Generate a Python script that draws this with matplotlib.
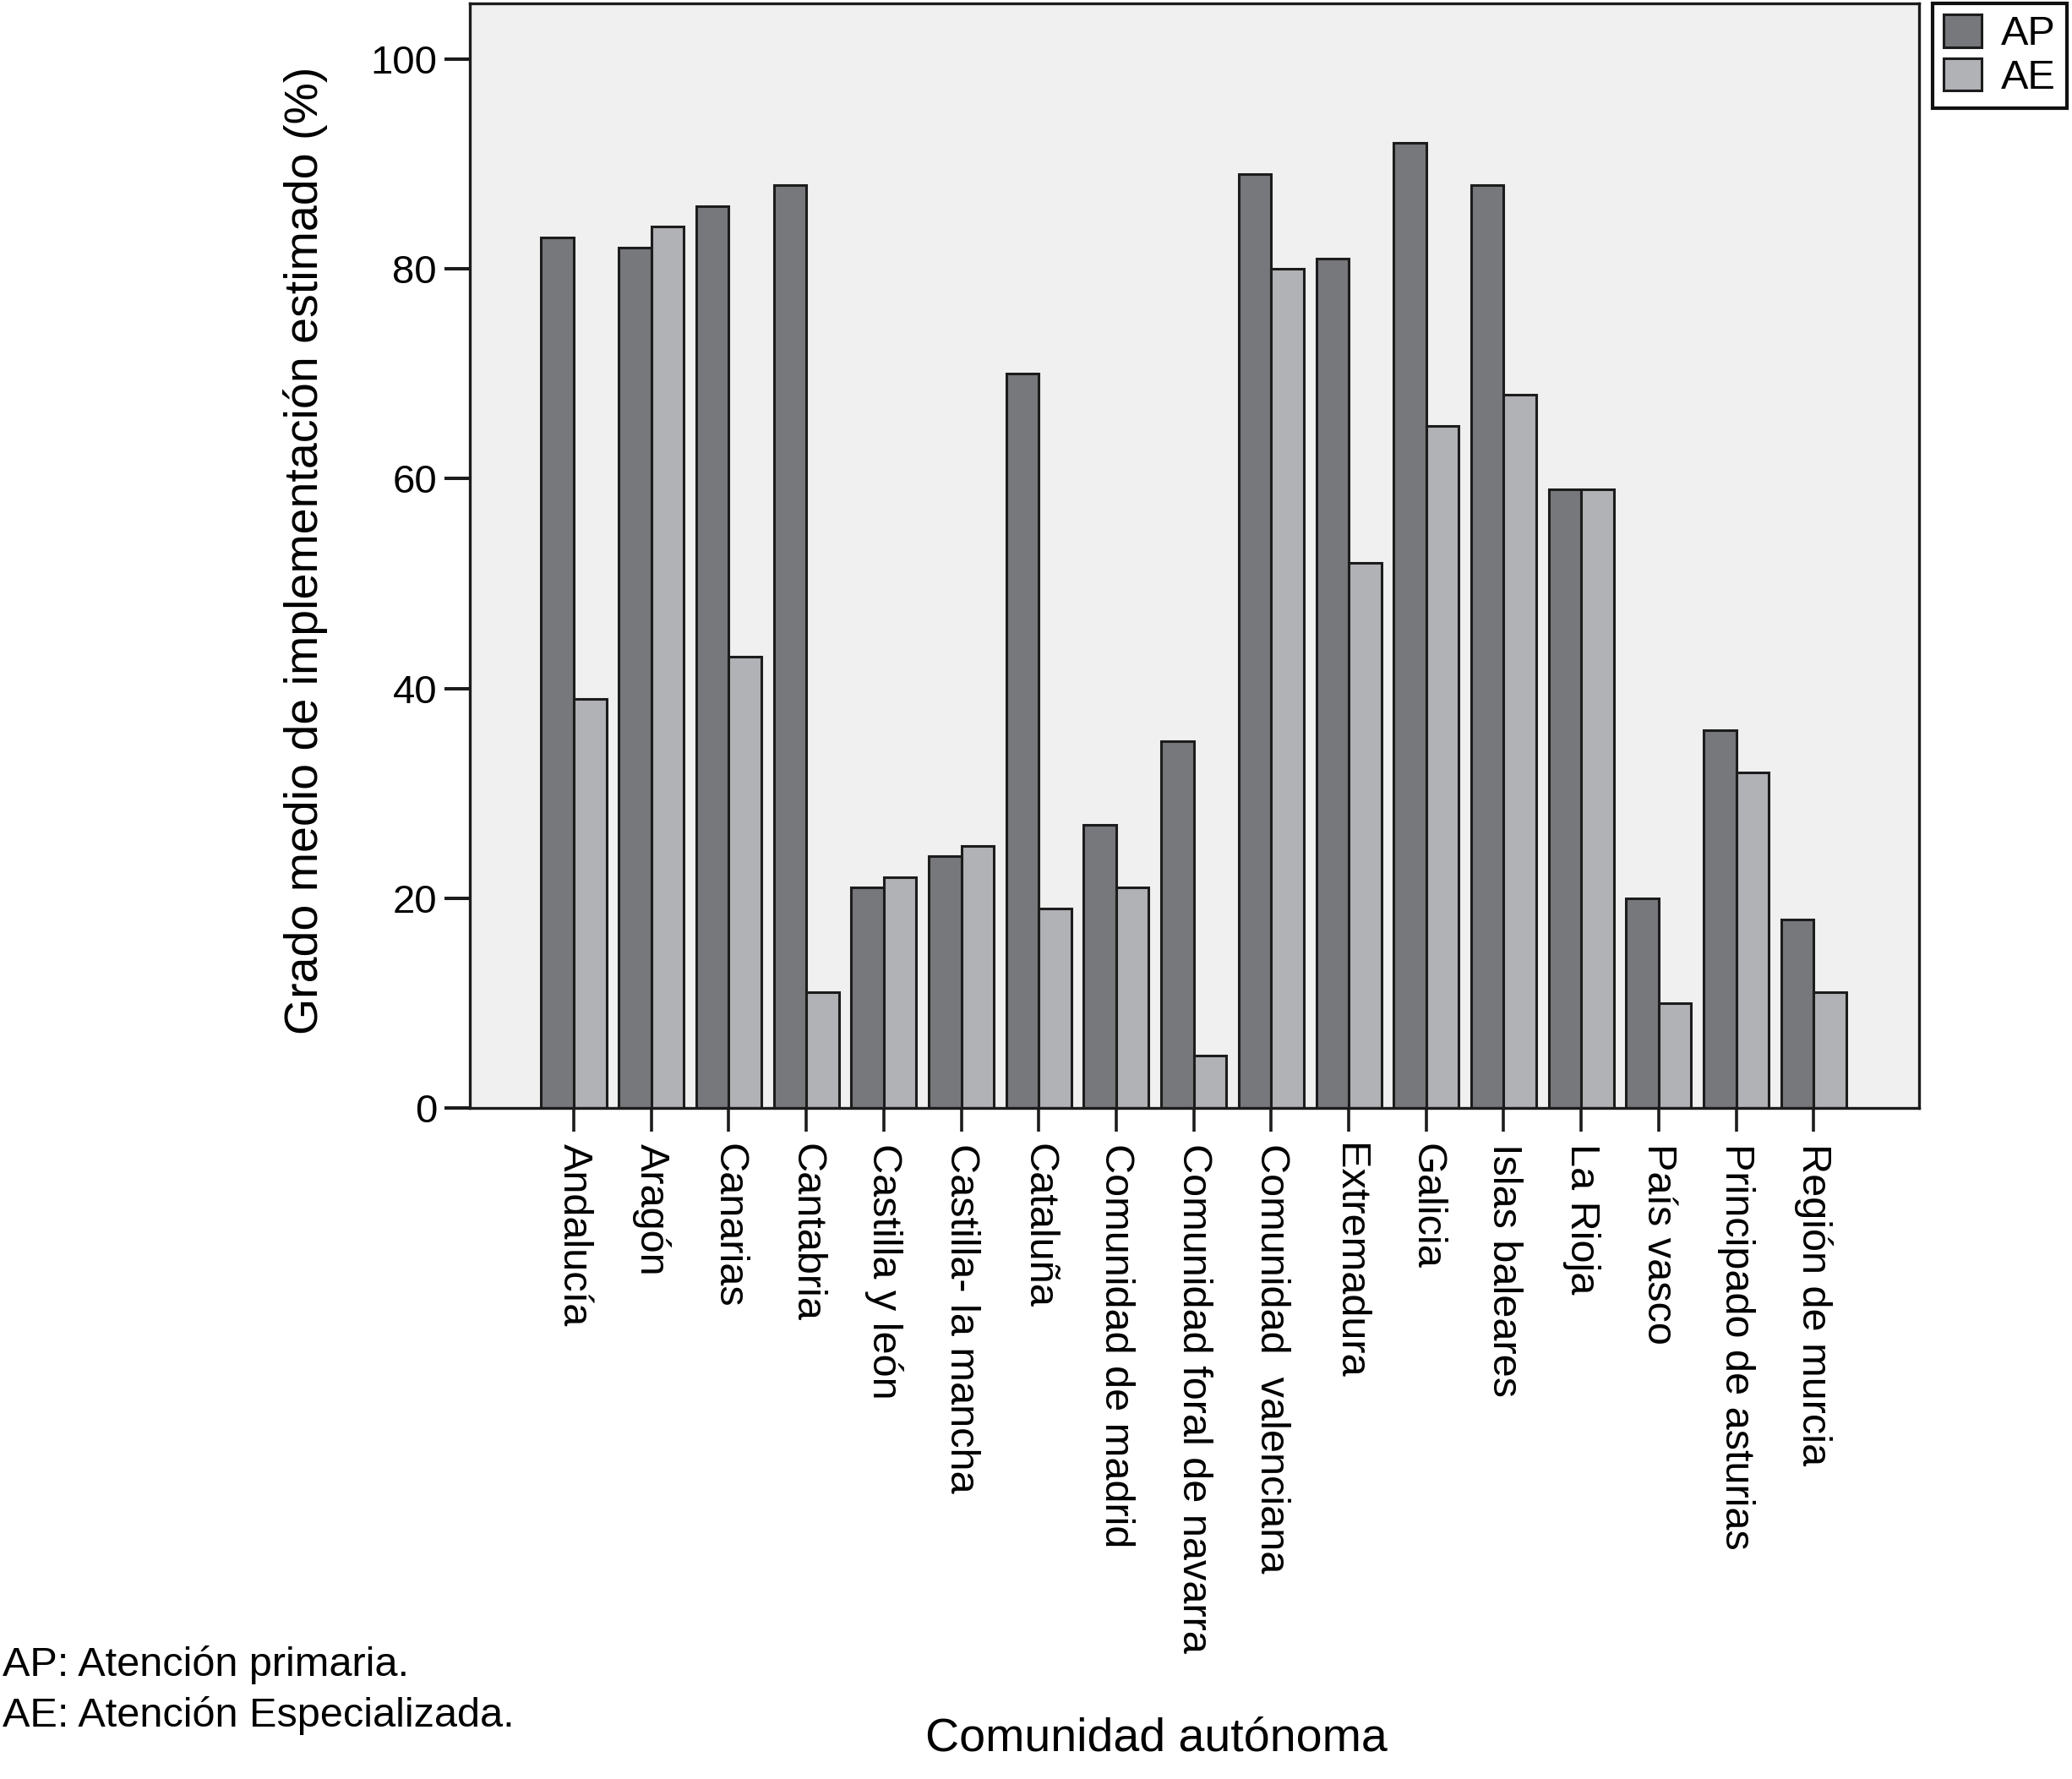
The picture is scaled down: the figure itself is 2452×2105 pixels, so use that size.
import numpy as np
import matplotlib
matplotlib.use("Agg")
import matplotlib.pyplot as plt

plt.rcParams['font.family'] = ['Liberation Sans', 'DejaVu Sans']

comunidades = ['Andalucía', 'Aragón', 'Canarias', 'Cantabria', 'Castilla y león',
               'Castilla- la mancha', 'Cataluña', 'Comunidad de madrid',
               'Comunidad foral de navarra', 'Comunidad  valenciana', 'Extremadura',
               'Galicia', 'Islas baleares', 'La Rioja', 'País vasco',
               'Principado de asturias', 'Región de murcia']
ap = [83, 82, 86, 88, 21, 24, 70, 27, 35, 89, 81, 92, 88, 59, 20, 36, 18]
ae = [39, 84, 43, 11, 22, 25, 19, 21, 5, 80, 52, 65, 68, 59, 10, 32, 11]
yticks = [0, 20, 40, 60, 80, 100]

col_ap = '#77787c'
col_ae = '#b1b2b6'
edge = '#1c1c1c'

fig = plt.figure(figsize=(24.52, 21.05), dpi=100)
ax = fig.add_axes([0.2268, 0.3772, 0.9262 - 0.2268, 0.9981 - 0.3772])
ax.set_facecolor('#f0f0f0')

x = np.arange(len(comunidades))
w = 0.42
ax.bar(x - w / 2, ap, w, color=col_ap, edgecolor=edge, linewidth=2.2, label='AP')
ax.bar(x + w / 2, ae, w, color=col_ae, edgecolor=edge, linewidth=2.2, label='AE')

ax.set_xlim(-1.34, 17.36)
ax.set_ylim(0, 105.3)
ax.set_yticks(yticks)
ax.set_xticks(x)
ax.set_xticklabels(comunidades, rotation=270, fontsize=35)
ax.tick_params(axis='y', labelsize=34, length=21.6, width=2.9, pad=6.5, color=edge)
ax.tick_params(axis='x', length=20, width=2.6, pad=10, color=edge)
for s in ax.spines.values():
    s.set_linewidth(2.4)
    s.set_color(edge)

ax.set_ylabel('Grado medio de implementación estimado (%)', fontsize=40)
ax.yaxis.set_label_coords(-0.098, 0.505)

leg = ax.legend(loc='upper left', bbox_to_anchor=(1.0093, 1.0), fontsize=35,
                frameon=True, fancybox=False, framealpha=1, edgecolor='#111111',
                handlelength=0.93, handleheight=0.84, handletextpad=0.47,
                borderpad=0.27, labelspacing=0.12, borderaxespad=0)
leg.get_frame().set_linewidth(3)

fig.text(1368 / 2452, 1 - 2058 / 2105, 'Comunidad autónoma', fontsize=40,
         ha='center', va='center')
fig.text(3 / 2452, 1 - 1970 / 2105, 'AP: Atención primaria.', fontsize=35,
         ha='left', va='center')
fig.text(3 / 2452, 1 - 2030 / 2105, 'AE: Atención Especializada.', fontsize=35,
         ha='left', va='center')

fig.savefig('out.png', dpi=100)
